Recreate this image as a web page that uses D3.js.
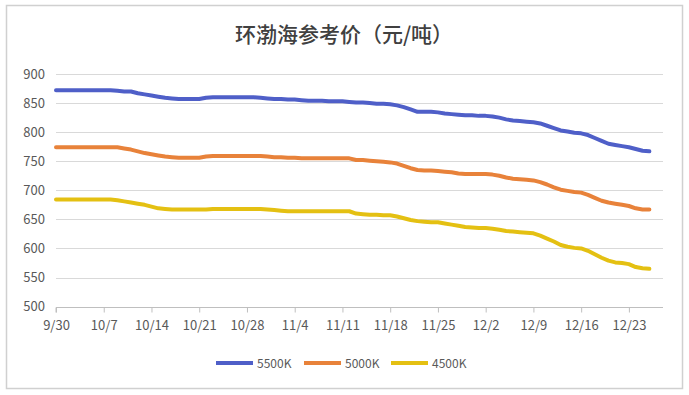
<!DOCTYPE html>
<html><head><meta charset="utf-8">
<script src="https://cdn.jsdelivr.net/npm/d3@7"></script>
<style>html,body{margin:0;padding:0;background:#fff;}svg{display:block;}</style>
</head><body>
<svg id="chart" width="689" height="395"></svg>
<script>
const title = "环渤海参考价（元/吨）";
const startDate = "2024-09-30";
const seriesNames = ["5500K", "5000K", "4500K"];
const seriesColors = ["#4F5FC8", "#E8823A", "#E4C012"];
const yTicks = [500, 550, 600, 650, 700, 750, 800, 850, 900];
const xTickLabels = ["9/30","10/7","10/14","10/21","10/28","11/4","11/11","11/18","11/25","12/2","12/9","12/16","12/23"];

const v5500 = [872,872,872,872,872,872,872,872,872,871,870,870,867,865,863,861,859,858,857,857,
857,857,859,860,860,860,860,860,860,860,859,858,857,857,856,856,855,854,854,854,
853,853,853,852,851,851,850,849,849,848,846,843,839,835,835,835,834,832,831,830,
829,829,828,828,827,825,822,820,819,818,817,815,811,807,803,801,799,798,795,790,
785,780,778,776,774,771,768,767];
const v5000 = [774,774,774,774,774,774,774,774,774,774,772,770,767,764,762,760,758,757,756,756,
756,756,758,759,759,759,759,759,759,759,759,758,757,757,756,756,755,755,755,755,
755,755,755,755,752,752,751,750,749,748,746,742,738,735,734,734,733,732,731,729,
728,728,728,728,727,725,722,720,719,718,717,714,710,705,701,699,697,696,692,687,
682,679,677,675,673,669,667,667];
const v4500 = [684,684,684,684,684,684,684,684,684,683,681,679,677,675,672,669,668,667,667,667,
667,667,667,668,668,668,668,668,668,668,668,667,666,665,664,664,664,664,664,664,
664,664,664,664,660,659,658,658,657,657,655,652,649,647,646,645,645,643,641,639,
637,636,635,635,634,632,630,629,628,627,626,622,617,612,606,603,601,600,596,590,
584,579,576,575,573,568,566,565];
const seriesValues = [v5500, v5000, v4500];

const svg = d3.select("#chart");
const font = "'Noto Sans CJK SC', 'Noto Sans', sans-serif";
const textColor = "#595959";

// outer frame
svg.append("rect").attr("x", 6.5).attr("y", 5.5).attr("width", 676).attr("height", 383)
  .attr("fill", "#fff").attr("stroke", "#D0D0D0").attr("stroke-width", 1.5);

svg.append("text").attr("x", 344).attr("y", 42).attr("text-anchor", "middle")
  .attr("font-family", font).attr("font-size", 21).attr("font-weight", 500)
  .attr("fill", "#404040").text(title);

const parse = d3.timeParse("%Y-%m-%d");
const d0 = parse(startDate);
const dayOf = i => d3.timeDay.offset(d0, i);
const x = d3.scaleTime().domain([d0, dayOf(89)]).range([56, 663]);
const y = d3.scaleLinear().domain([500, 900]).range([306.6, 74]);

// gridlines
svg.append("g").selectAll("line").data(yTicks.filter(t => t !== 500)).join("line")
  .attr("x1", 56).attr("x2", 663).attr("y1", d => Math.round(y(d)) + 0.5).attr("y2", d => Math.round(y(d)) + 0.5)
  .attr("stroke", "#D9D9D9").attr("stroke-width", 1);

// y axis labels
const yAxis = d3.axisLeft(y).tickValues(yTicks).tickSize(0).tickPadding(11);
const gy = svg.append("g").attr("transform", "translate(56,0)").call(yAxis);
gy.select(".domain").remove();
gy.selectAll("text").attr("font-family", font).attr("font-size", 13).attr("fill", textColor);

// x axis
const xTickDates = xTickLabels.map((_, i) => dayOf(i * 7));
const xAxis = d3.axisBottom(x).tickValues(xTickDates).tickSize(5).tickPadding(8)
  .tickFormat((d, i) => xTickLabels[i]);
const gx = svg.append("g").attr("transform", `translate(0,${Math.round(y(500)) + 0.5})`).call(xAxis);
gx.select(".domain").attr("stroke", "#BFBFBF").attr("d", `M56,5V0H663`);
gx.selectAll(".tick line").attr("stroke", "#BFBFBF");
gx.selectAll("text").attr("font-family", font).attr("font-size", 13).attr("fill", textColor);

// lines
const line = d3.line().x((d, i) => x(dayOf(i))).y(d => y(d)).curve(d3.curveLinear);
seriesValues.forEach((vals, k) => {
  svg.append("path").datum(vals).attr("d", line).attr("fill", "none")
    .attr("stroke", seriesColors[k]).attr("stroke-width", 4)
    .attr("stroke-linejoin", "round").attr("stroke-linecap", "round");
});

// legend
const legendX = [216, 304, 391];
const lg = svg.append("g");
seriesNames.forEach((name, k) => {
  lg.append("line").attr("x1", legendX[k]).attr("x2", legendX[k] + 37).attr("y1", 363).attr("y2", 363)
    .attr("stroke", seriesColors[k]).attr("stroke-width", 4);
  lg.append("text").attr("x", legendX[k] + 41).attr("y", 367.5).attr("font-family", font)
    .attr("font-size", 12).attr("fill", textColor).text(name);
});
</script>
</body></html>
